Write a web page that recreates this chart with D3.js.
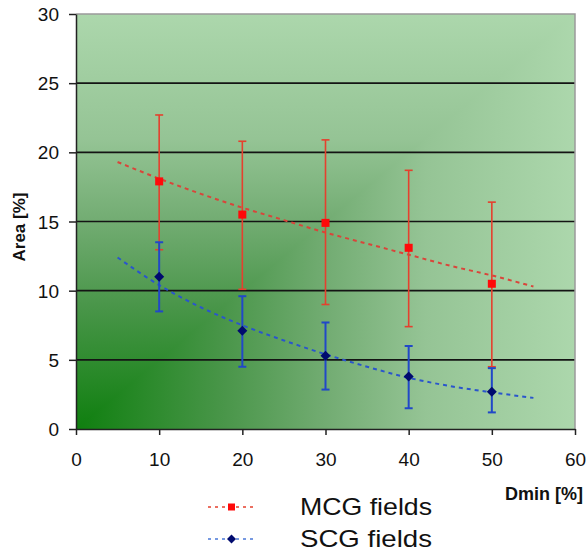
<!DOCTYPE html>
<html>
<head>
<meta charset="utf-8">
<script src="https://cdn.jsdelivr.net/npm/d3@7"></script>
<style>
  body { margin: 0; background: #fff; }
  text { font-family: Arial, "Liberation Sans", sans-serif; }
</style>
</head>
<body>
<div class="chart-container"></div>
<script>
// Data.
const dmin = [10, 20, 30, 40, 50];
const mcgArea = [17.9, 15.5, 14.9, 13.1, 10.5];
const mcgUpper = [22.7, 20.8, 20.9, 18.7, 16.4];
const mcgLower = [12.96, 10.1, 9.0, 7.4, 4.5];
const scgArea = [11.0, 7.1, 5.3, 3.8, 2.7];
const scgUpper = [13.5, 9.6, 7.7, 6.0, 4.4];
const scgLower = [8.5, 4.5, 2.85, 1.5, 1.2];

// Trend lines.
const trendX = [5, 10, 15, 20, 25, 30, 35, 40, 45, 50, 55];
const mcgTrend = [19.3, 18.1, 17.0, 16.0, 15.1, 14.2, 13.4, 12.6, 11.8, 11.1, 10.3];
const scgTrend = [12.4, 10.4, 8.8, 7.5, 6.4, 5.4, 4.5, 3.7, 3.1, 2.65, 2.25];

const xTicks = [0, 10, 20, 30, 40, 50, 60];
const yTicks = [0, 5, 10, 15, 20, 25, 30];

const width = 588;
const height = 553;

const svg = d3
  .select(".chart-container")
  .append("svg")
  .attr("width", width)
  .attr("height", height);

// Scales.
const xScale = d3.scaleLinear().domain([0, 60]).range([76, 575]);
const yScale = d3.scaleLinear().domain([0, 30]).range([429, 14]);

const x0 = xScale(0), x1 = xScale(60), y0 = yScale(0), y1 = yScale(30);

// Background gradient ("from corner"): horizontal everywhere, vertical on the upper-left half.
const defs = svg.append("defs");
const stops = [
  [0, "#0f7f0f"],
  [0.3, "#4a964a"],
  [0.5, "#72ac72"],
  [0.7, "#95c495"],
  [1, "#acd7ac"],
];
const gH = defs.append("linearGradient").attr("id", "gradH")
  .attr("x1", 0).attr("y1", 0).attr("x2", 1).attr("y2", 0);
const gV = defs.append("linearGradient").attr("id", "gradV")
  .attr("x1", 0).attr("y1", 1).attr("x2", 0).attr("y2", 0);
stops.forEach((s) => {
  gH.append("stop").attr("offset", s[0]).attr("stop-color", s[1]);
  gV.append("stop").attr("offset", s[0]).attr("stop-color", s[1]);
});

svg.append("rect")
  .attr("x", x0).attr("y", y1)
  .attr("width", x1 - x0).attr("height", y0 - y1)
  .attr("fill", "url(#gradH)");
svg.append("path")
  .attr("d", `M${x0},${y0}L${x0},${y1}L${x1},${y1}Z`)
  .attr("fill", "url(#gradV)");

// Grid lines.
svg.append("g")
  .selectAll("line")
  .data(yTicks.filter((d) => d > 0 && d < 30))
  .enter()
  .append("line")
  .attr("x1", x0)
  .attr("x2", x1)
  .attr("y1", (d) => yScale(d))
  .attr("y2", (d) => yScale(d))
  .attr("stroke", "#141414")
  .attr("stroke-width", 1.6);

// Plot border (top + right).
svg.append("path")
  .attr("d", `M${x0},${y1}L${x1},${y1}L${x1},${y0}`)
  .attr("fill", "none")
  .attr("stroke", "#9a9a9a")
  .attr("stroke-width", 1.5);

// Draw axes.
const yAxis = d3.axisLeft(yScale).tickValues(yTicks).tickSizeInner(7).tickSizeOuter(0).tickPadding(10);
const yAxisDraw = svg.append("g")
  .attr("transform", `translate(${x0},0)`)
  .call(yAxis);
yAxisDraw.select(".domain").attr("stroke", "#222").attr("stroke-width", 1.5);
yAxisDraw.selectAll(".tick line").attr("stroke", "#222").attr("stroke-width", 1.5);
yAxisDraw.selectAll("text")
  .attr("font-size", 19)
  .attr("fill", "#111")
  .attr("x", -17)
  .attr("dy", "0.35em");

const xAxis = d3.axisBottom(xScale).tickValues(xTicks).tickSizeInner(6).tickSizeOuter(0).tickPadding(18);
const xAxisDraw = svg.append("g")
  .attr("transform", `translate(0,${y0})`)
  .call(xAxis);
xAxisDraw.select(".domain").attr("stroke", "#222").attr("stroke-width", 1.5);
xAxisDraw.selectAll(".tick line").attr("stroke", "#222").attr("stroke-width", 1.5);
xAxisDraw.selectAll("text")
  .attr("font-size", 19)
  .attr("fill", "#111");

// Axis labels.
svg.append("text")
  .attr("transform", "translate(25, 227) rotate(-90)")
  .attr("text-anchor", "middle")
  .attr("font-size", 17)
  .attr("font-weight", "bold")
  .attr("fill", "#111")
  .text("Area [%]");

svg.append("text")
  .attr("x", 583)
  .attr("y", 500)
  .attr("text-anchor", "end")
  .attr("font-size", 18)
  .attr("font-weight", "bold")
  .attr("fill", "#111")
  .text("Dmin [%]");

// Trend lines.
const line = d3.line()
  .x((d) => xScale(d[0]))
  .y((d) => yScale(d[1]))
  .curve(d3.curveMonotoneX);

svg.append("path")
  .datum(trendX.map((x, i) => [x, mcgTrend[i]]))
  .attr("d", line)
  .attr("fill", "none")
  .attr("stroke", "#d9453a")
  .attr("stroke-width", 2)
  .attr("stroke-dasharray", "4,4");

svg.append("path")
  .datum(trendX.map((x, i) => [x, scgTrend[i]]))
  .attr("d", line)
  .attr("fill", "none")
  .attr("stroke", "#2a55cc")
  .attr("stroke-width", 2)
  .attr("stroke-dasharray", "4,4");

// Error bars.
function drawErrors(upper, lower, color, sw) {
  const g = svg.append("g");
  dmin.forEach((d, i) => {
    const cx = xScale(d);
    g.append("line")
      .attr("x1", cx).attr("x2", cx)
      .attr("y1", yScale(upper[i])).attr("y2", yScale(lower[i]))
      .attr("stroke", color).attr("stroke-width", sw);
    [upper[i], lower[i]].forEach((v) => {
      g.append("line")
        .attr("x1", cx - 4).attr("x2", cx + 4)
        .attr("y1", yScale(v)).attr("y2", yScale(v))
        .attr("stroke", color).attr("stroke-width", sw);
    });
  });
}
drawErrors(mcgUpper, mcgLower, "#e5402e", 1.6);
drawErrors(scgUpper, scgLower, "#2148c8", 2);

// Markers.
svg.append("g")
  .selectAll("rect")
  .data(dmin)
  .enter()
  .append("rect")
  .attr("x", (d) => xScale(d) - 4)
  .attr("y", (d, i) => yScale(mcgArea[i]) - 4)
  .attr("width", 8)
  .attr("height", 8)
  .attr("fill", "#ff0a0a");

svg.append("g")
  .selectAll("path")
  .data(dmin)
  .enter()
  .append("path")
  .attr("transform", (d, i) => `translate(${xScale(d)},${yScale(scgArea[i])})`)
  .attr("d", "M0,-5L5,0L0,5L-5,0Z")
  .attr("fill", "#000a6e");

// Legend.
const legend = svg.append("g");
const legendItems = [
  { label: "MCG fields", y: 507, color: "#e5402e", mark: "#ff0a0a", shape: "square", base: 515 },
  { label: "SCG fields", y: 539, color: "#4a78d8", mark: "#000a6e", shape: "diamond", base: 547 },
];
legendItems.forEach((it) => {
  legend.append("line")
    .attr("x1", 208).attr("x2", 256)
    .attr("y1", it.y).attr("y2", it.y)
    .attr("stroke", it.color)
    .attr("stroke-width", 1.5)
    .attr("stroke-dasharray", "3,4");
  if (it.shape === "square") {
    legend.append("rect")
      .attr("x", 228).attr("y", it.y - 3.5)
      .attr("width", 7).attr("height", 7)
      .attr("fill", it.mark);
  } else {
    legend.append("path")
      .attr("transform", `translate(231.5,${it.y})`)
      .attr("d", "M0,-4.5L4.5,0L0,4.5L-4.5,0Z")
      .attr("fill", it.mark);
  }
  legend.append("text")
    .attr("x", 300)
    .attr("y", it.base)
    .attr("font-size", 24)
    .attr("fill", "#111")
    .attr("textLength", 132)
    .attr("lengthAdjust", "spacingAndGlyphs")
    .text(it.label);
});
</script>
</body>
</html>
